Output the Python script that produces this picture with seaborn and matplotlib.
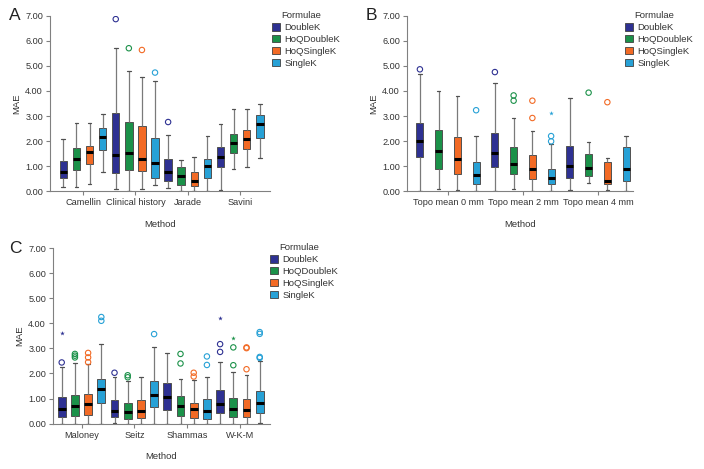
import matplotlib
matplotlib.use("Agg")
import matplotlib.pyplot as plt
from matplotlib.patches import Patch
import numpy as np
import pandas as pd
import seaborn as sns

formulae = ["DoubleK", "HoQDoubleK", "HoQSingleK", "SingleK"]
colors = ["#2e3192", "#1b9149", "#f26a25", "#27a1d6"]

# Panel A - box summaries, method-major / formula-minor
a_methods = ["Camellin", "Clinical history", "Jarade", "Savini"]
a_low = [0.17, 0.18, 0.28, 0.76, 0.09, 0.01, 0.08, 0.26, 0.12, 0.01, 0.00, 0.01, 0.04, 0.88, 0.96, 1.33]
a_q1 = [0.51, 0.85, 1.07, 1.65, 0.74, 0.85, 0.80, 0.53, 0.41, 0.26, 0.22, 0.52, 0.95, 1.51, 1.67, 2.14]
a_med = [0.77, 1.30, 1.56, 2.17, 1.45, 1.53, 1.30, 1.12, 0.76, 0.62, 0.42, 0.99, 1.38, 1.91, 2.10, 2.69]
a_q3 = [1.20, 1.73, 1.80, 2.51, 3.11, 2.77, 2.60, 2.11, 1.27, 0.98, 0.78, 1.27, 1.75, 2.30, 2.43, 3.03]
a_high = [2.10, 2.73, 2.73, 3.06, 5.70, 4.79, 4.54, 4.41, 2.24, 1.25, 1.37, 2.20, 2.68, 3.28, 3.28, 3.49]
a_out = [("Clinical history", "DoubleK", 6.86), ("Clinical history", "HoQDoubleK", 5.70),
         ("Clinical history", "HoQSingleK", 5.63), ("Clinical history", "SingleK", 4.73),
         ("Jarade", "DoubleK", 2.76)]
a_ext = []

# Panel B
b_methods = ["Topo mean 0 mm", "Topo mean 2 mm", "Topo mean 4 mm"]
b_low = [0.00, 0.10, 0.07, 0.00, 0.00, 0.08, 0.00, 0.00, 0.04, 0.34, 0.04, 0.03]
b_q1 = [1.37, 0.90, 0.69, 0.30, 0.98, 0.69, 0.48, 0.28, 0.54, 0.61, 0.30, 0.42]
b_med = [1.99, 1.59, 1.30, 0.64, 1.53, 1.10, 0.90, 0.52, 1.02, 0.94, 0.40, 0.89]
b_q3 = [2.73, 2.44, 2.15, 1.18, 2.34, 1.78, 1.45, 0.90, 1.82, 1.49, 1.18, 1.77]
b_high = [4.67, 4.01, 3.78, 2.22, 4.30, 2.91, 2.39, 1.87, 3.73, 1.98, 1.34, 2.20]
b_out = [("Topo mean 0 mm", "DoubleK", 4.86), ("Topo mean 0 mm", "SingleK", 3.23),
         ("Topo mean 2 mm", "DoubleK", 4.75), ("Topo mean 2 mm", "HoQDoubleK", 3.82),
         ("Topo mean 2 mm", "HoQDoubleK", 3.61), ("Topo mean 2 mm", "HoQSingleK", 3.61),
         ("Topo mean 2 mm", "HoQSingleK", 2.92), ("Topo mean 2 mm", "SingleK", 2.20),
         ("Topo mean 2 mm", "SingleK", 1.99), ("Topo mean 4 mm", "HoQDoubleK", 3.93),
         ("Topo mean 4 mm", "HoQSingleK", 3.55)]
b_ext = [("Topo mean 2 mm", "SingleK", 3.12)]

# Panel C
c_methods = ["Maloney", "Seitz", "Shammas", "W-K-M"]
c_low = [0.00, 0.00, 0.00, 0.00, 0.04, 0.00, 0.00, 0.00, 0.00, 0.00, 0.00, 0.00, 0.00, 0.00, 0.00, 0.04]
c_q1 = [0.27, 0.29, 0.36, 0.81, 0.28, 0.19, 0.23, 0.65, 0.54, 0.29, 0.24, 0.17, 0.44, 0.25, 0.25, 0.44]
c_med = [0.60, 0.72, 0.77, 1.37, 0.52, 0.48, 0.50, 1.16, 1.08, 0.72, 0.60, 0.50, 0.80, 0.60, 0.54, 0.84]
c_q3 = [1.08, 1.16, 1.17, 1.79, 0.94, 0.84, 0.93, 1.70, 1.62, 1.10, 0.84, 0.97, 1.34, 1.01, 0.97, 1.31]
c_high = [2.24, 2.40, 2.38, 3.16, 1.87, 1.71, 1.85, 3.07, 2.80, 1.78, 1.74, 1.87, 2.47, 2.06, 1.94, 2.51]
c_out = [("Maloney", "DoubleK", 2.44), ("Maloney", "HoQDoubleK", 2.78), ("Maloney", "HoQDoubleK", 2.71),
         ("Maloney", "HoQDoubleK", 2.64), ("Maloney", "HoQSingleK", 2.82), ("Maloney", "HoQSingleK", 2.64),
         ("Maloney", "HoQSingleK", 2.45), ("Maloney", "SingleK", 4.25), ("Maloney", "SingleK", 4.10),
         ("Seitz", "DoubleK", 2.03), ("Seitz", "HoQDoubleK", 1.93), ("Seitz", "HoQDoubleK", 1.85),
         ("Seitz", "SingleK", 3.57), ("Shammas", "HoQDoubleK", 2.78), ("Shammas", "HoQDoubleK", 2.40),
         ("Shammas", "HoQSingleK", 2.03), ("Shammas", "HoQSingleK", 1.88), ("Shammas", "SingleK", 2.68),
         ("Shammas", "SingleK", 2.34), ("W-K-M", "DoubleK", 3.17), ("W-K-M", "DoubleK", 2.86),
         ("W-K-M", "HoQDoubleK", 3.04), ("W-K-M", "HoQDoubleK", 2.33), ("W-K-M", "HoQSingleK", 3.04),
         ("W-K-M", "HoQSingleK", 3.01), ("W-K-M", "HoQSingleK", 2.17), ("W-K-M", "SingleK", 3.65),
         ("W-K-M", "SingleK", 3.58), ("W-K-M", "SingleK", 2.66), ("W-K-M", "SingleK", 2.62)]
c_ext = [("Maloney", "DoubleK", 3.61), ("W-K-M", "DoubleK", 4.22), ("W-K-M", "HoQDoubleK", 3.40)]

sns.set_style("ticks")
plt.rcParams["font.family"] = ["Liberation Sans", "DejaVu Sans"]

W, H = 704, 469
fig = plt.figure(figsize=(W / 100, H / 100), dpi=100)


def px_rect(left, top, right, bottom):
    return [left / W, 1 - bottom / H, (right - left) / W, (bottom - top) / H]


def draw_panel(rect, methods, low, q1, med, q3, high, out, ext, gap, xlim, letter, letter_xy, legend_xy):
    ax = fig.add_axes(rect)
    rows = []
    i = 0
    for m in methods:
        for f in formulae:
            for v in (low[i], q1[i], med[i], q3[i], high[i]):
                rows.append((m, f, v))
            i += 1
    df = pd.DataFrame(rows, columns=["Method", "Formulae", "MAE"])
    sns.boxplot(data=df, x="Method", y="MAE", hue="Formulae", order=methods,
                hue_order=formulae, palette=colors, saturation=1, whis=(0, 100), width=1, gap=gap,
                showfliers=False, linewidth=0.7, linecolor="#505050",
                medianprops=dict(color="black", linewidth=2.2),
                whiskerprops=dict(color="#7a7a7a", linewidth=0.9),
                capprops=dict(color="#505050", linewidth=0.9),
                legend=False, ax=ax)

    # outliers sit at the same dodged slot as their box
    slot = 1 / len(formulae)

    def xpos(m, f):
        return methods.index(m) + (formulae.index(f) - (len(formulae) - 1) / 2) * slot

    for m, f, v in out:
        ax.scatter([xpos(m, f)], [v], s=15, marker="o", facecolors="none",
                   edgecolors=colors[formulae.index(f)], linewidths=0.8, zorder=5)
    for m, f, v in ext:
        ax.scatter([xpos(m, f)], [v], s=12, marker="*", color=colors[formulae.index(f)],
                   linewidths=0, zorder=5)

    ax.set_xlim(*xlim)
    ax.set_ylim(0, 7)
    ax.set_yticks(np.arange(0, 8))
    ax.set_yticklabels([f"{t:.2f}" for t in range(8)])
    sns.despine(ax=ax)
    for s in ("left", "bottom"):
        ax.spines[s].set_color("#808080")
        ax.spines[s].set_linewidth(0.8)
    ax.tick_params(length=3, width=0.8, color="#808080", labelsize=6.6, labelcolor="#333333", pad=2)
    ax.set_ylabel("MAE", fontsize=6.8, color="#333333", labelpad=2.5)
    ax.set_xlabel("Method", fontsize=6.8, color="#333333", labelpad=9)

    fig.text(letter_xy[0] / W, 1 - letter_xy[1] / H, letter, fontsize=12.5, va="center", ha="left", color="#222222")
    fig.text((legend_xy[0] + 9) / W, 1 - legend_xy[1] / H, "Formulae", fontsize=6.8,
             va="center", ha="left", color="#333333")
    handles = [Patch(facecolor=c, edgecolor="#404040", linewidth=0.6) for c in colors]
    ax.legend(handles, formulae, loc="upper left", bbox_to_anchor=(legend_xy[0] / W, 1 - (legend_xy[1] + 8) / H),
              bbox_transform=fig.transFigure, frameon=False, fontsize=6.8, handlelength=0.85,
              handleheight=0.85, handletextpad=0.45, labelspacing=0.3, borderpad=0, borderaxespad=0,
              labelcolor="#333333")
    return ax


draw_panel(px_rect(50, 15.6, 270, 191.3), a_methods, a_low, a_q1, a_med, a_q3, a_high, a_out, a_ext,
           0.43, (-0.63, 3.57), "A", (9, 15), (272, 15))
draw_panel(px_rect(407, 15.6, 633, 191.3), b_methods, b_low, b_q1, b_med, b_q3, b_high, b_out, b_ext,
           0.63, (-0.547, 2.467), "B", (366, 15), (625, 15))
draw_panel(px_rect(53, 248, 270, 423.7), c_methods, c_low, c_q1, c_med, c_q3, c_high, c_out, c_ext,
           0.42, (-0.54, 3.57), "C", (9, 248), (270, 247))

fig.savefig("out.png", dpi=100)
